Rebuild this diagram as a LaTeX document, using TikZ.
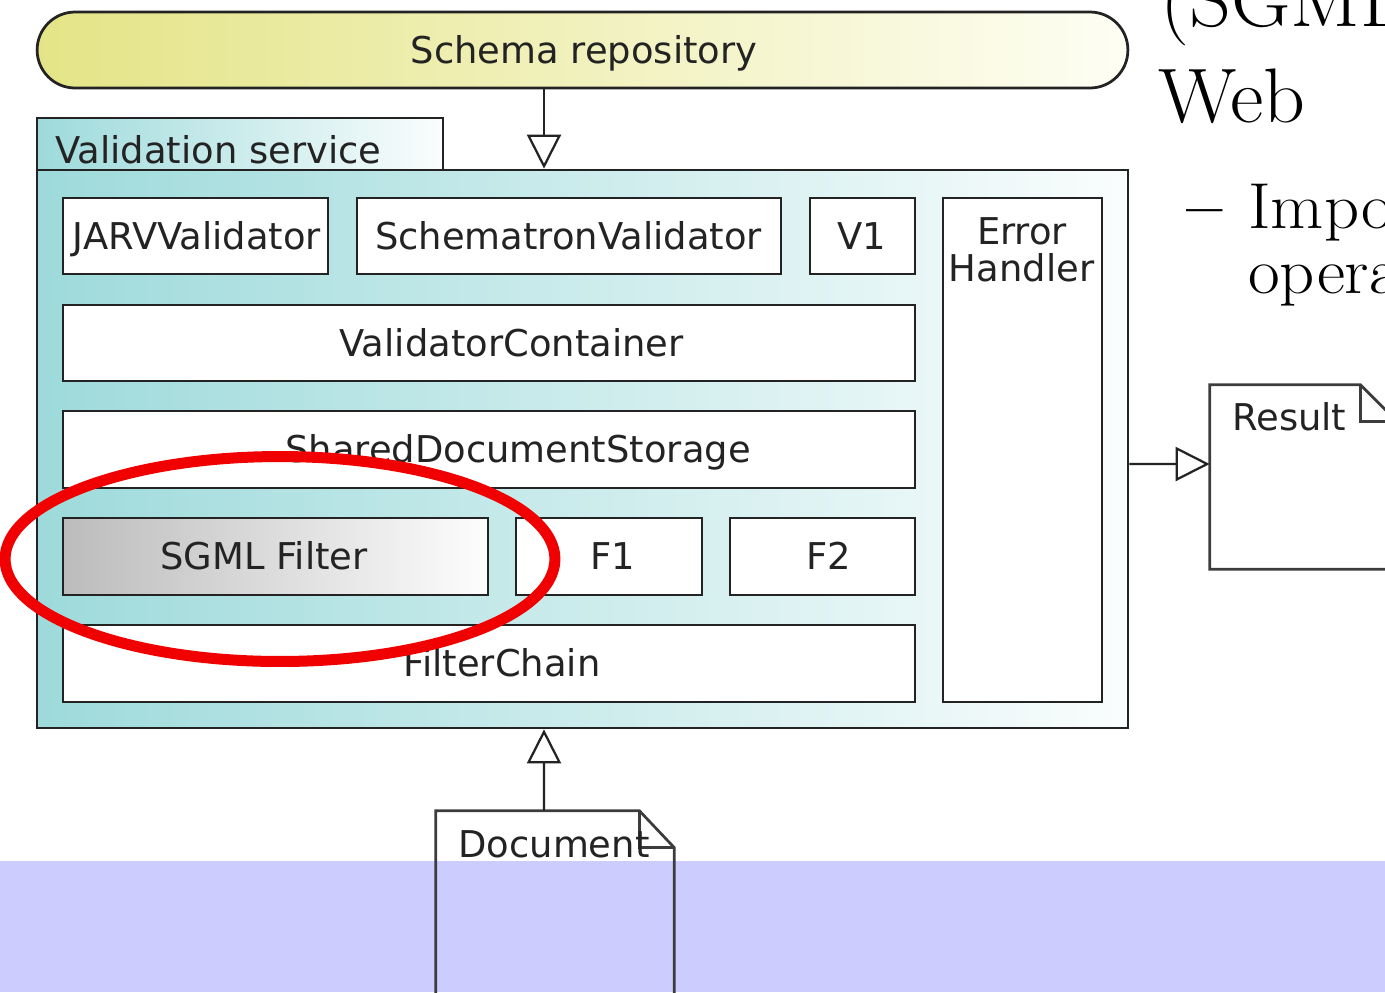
\documentclass[tikz,border=0pt]{standalone}
\usepackage{fontspec}
\usepackage{graphicx}
\usetikzlibrary{arrows.meta}
\newfontfamily\dvsans{DejaVu Sans}
\definecolor{tealL}{RGB}{158,218,219}
\definecolor{tealR}{RGB}{250,253,253}
\definecolor{yelL}{RGB}{228,228,135}
\definecolor{yelR}{RGB}{254,254,244}
\definecolor{greyL}{RGB}{188,188,188}
\definecolor{greyR}{RGB}{253,253,253}
\definecolor{bandcol}{RGB}{204,204,255}
\definecolor{ink}{RGB}{35,35,35}
\definecolor{docline}{RGB}{60,60,60}
\definecolor{hilite}{RGB}{240,0,0}
\newcommand\wideA[1]{\scalebox{1.06}[1]{#1}}
\newcommand\wideB[1]{\scalebox{1.06}[1]{#1}}
\begin{document}
\begin{tikzpicture}[x=0.02cm,y=-0.02cm,
  lbl/.style={font=\dvsans\fontsize{21}{21}\selectfont, text=ink, inner sep=0pt, anchor=base},
  part/.style={draw=ink, line width=0.05cm, fill=white, minimum height=1.52cm, inner sep=0pt},
  frame/.style={draw=ink, line width=0.055cm, inner sep=0pt},
  docbox/.style={inner sep=0pt},
  docline/.style={draw=docline, line width=0.055cm, line join=miter},
  conn/.style={draw=ink, line width=0.045cm, -{Triangle[length=0.68cm,width=0.68cm,fill=white]}},
  slide/.style={font=\fontsize{44}{44}\selectfont, text=black, inner sep=0pt, anchor=base west},
  slidesub/.style={font=\fontsize{37}{37}\selectfont, text=black, inner sep=0pt, anchor=base west}]
\useasboundingbox (0,0) rectangle (1385,992);
\clip (0,0) rectangle (1385,992);

% lower band of the page
\fill[bandcol] (0,861) rectangle (1385,992);

% schema repository
\node[frame, left color=yelL, right color=yelR, rounded corners=0.76cm,
      minimum width=21.82cm, minimum height=1.52cm] (schema) at (582.5,50) {};
\node[lbl] (schematxt) at (584,63) {Schema repository};

% validation service package
\node[frame, left color=tealL, right color=tealR,
      minimum width=21.82cm, minimum height=11.16cm] (vs) at (582.5,449) {};
\node[frame, left color=tealL, right color=tealR,
      minimum width=8.12cm, minimum height=1.04cm] (vstab) at (240,144) {};
\node[lbl, anchor=base west] (vstxt) at (55,163) {Validation service};

% validators
\node[part, minimum width=5.3cm] (jarv) at (195.5,236) {};
\node[lbl] (jarvtxt) at (197,249) {JARVValidator};
\node[part, minimum width=8.48cm] (schematron) at (569,236) {};
\node[lbl] (schematrontxt) at (568.5,249) {SchematronValidator};
\node[part, minimum width=2.1cm] (vone) at (862.5,236) {};
\node[lbl] (vonetxt) at (862,249) {V1};

% error handler
\node[part, minimum width=3.18cm, minimum height=10.08cm] (err) at (1022.5,450) {};
\node[lbl] (errtxtA) at (1022,244) {Error};
\node[lbl] (errtxtB) at (1021.5,281) {Handler};

% container and storage
\node[part, minimum width=17.04cm] (vc) at (489,343) {};
\node[lbl] (vctxt) at (511.5,356) {ValidatorContainer};
\node[part, minimum width=17.04cm, minimum height=1.54cm] (sds) at (489,449.5) {};
\node[lbl] (sdstxt) at (518,462) {SharedDocumentStorage};

% filters
\node[part, left color=greyL, right color=greyR, minimum width=8.5cm, minimum height=1.54cm] (sgml) at (275.5,556.5) {};
\node[lbl] (sgmltxt) at (264,569) {SGML Filter};
\node[part, minimum width=3.72cm, minimum height=1.54cm] (fone) at (609,556.5) {};
\node[lbl] (fonetxt) at (613,569) {F1};
\node[part, minimum width=3.7cm, minimum height=1.54cm] (ftwo) at (822.5,556.5) {};
\node[lbl] (ftwotxt) at (829,569) {F2};
\node[part, minimum width=17.04cm, minimum height=1.54cm] (fc) at (489,663.5) {};
\node[lbl] (fctxt) at (502,676) {FilterChain};

% result document
\node[docbox, minimum width=3.74cm, minimum height=3.68cm] (result) at (1303.5,477) {};
\draw[docline] (result.south east) -- (result.south west) -- (result.north west)
  -- ([xshift=-0.74cm]result.north east) -- ([yshift=-0.74cm]result.north east) -- (result.south east);
\draw[docline] ([xshift=-0.74cm]result.north east) |- ([yshift=-0.74cm]result.north east);
\node[lbl, anchor=base west] (resulttxt) at (1232,430) {Result};

% input document
\node[docbox, minimum width=4.76cm, minimum height=5cm] (doc) at (555,936) {};
\draw[docline] (doc.south west) -- (doc.north west)
  -- ([xshift=-0.7cm]doc.north east) -- ([yshift=-0.74cm]doc.north east) -- (doc.south east);
\draw[docline] ([xshift=-0.7cm]doc.north east) |- ([yshift=-0.74cm]doc.north east);
\node[lbl, anchor=base west] (doctxt) at (458,857) {Document};

% connectors
\draw[conn] ([xshift=-0.77cm]schema.south) -- ([xshift=-0.77cm]vs.north);
\draw[conn] ([xshift=-0.22cm]doc.north) -- ([xshift=-0.77cm]vs.south);
\draw[conn] ([yshift=-0.3cm]vs.east) -- ([yshift=0.26cm]result.west);

% highlight
\draw[hilite, line width=0.22cm] (280,559) ellipse [x radius=5.5cm, y radius=2.05cm];

% slide text
\node[slide] (lineA) at (1160,26) {\wideA{(SGML}};
\node[slide] (lineB) at (1158,122) {\wideA{Web}};
\node[slidesub] (dash) at (1186,228) {\textbf{–}};
\node[slidesub] (lineC) at (1248,228) {\wideB{Impo}};
\node[slidesub] (lineD) at (1248,293) {\wideB{opera}};
\end{tikzpicture}
\end{document}
